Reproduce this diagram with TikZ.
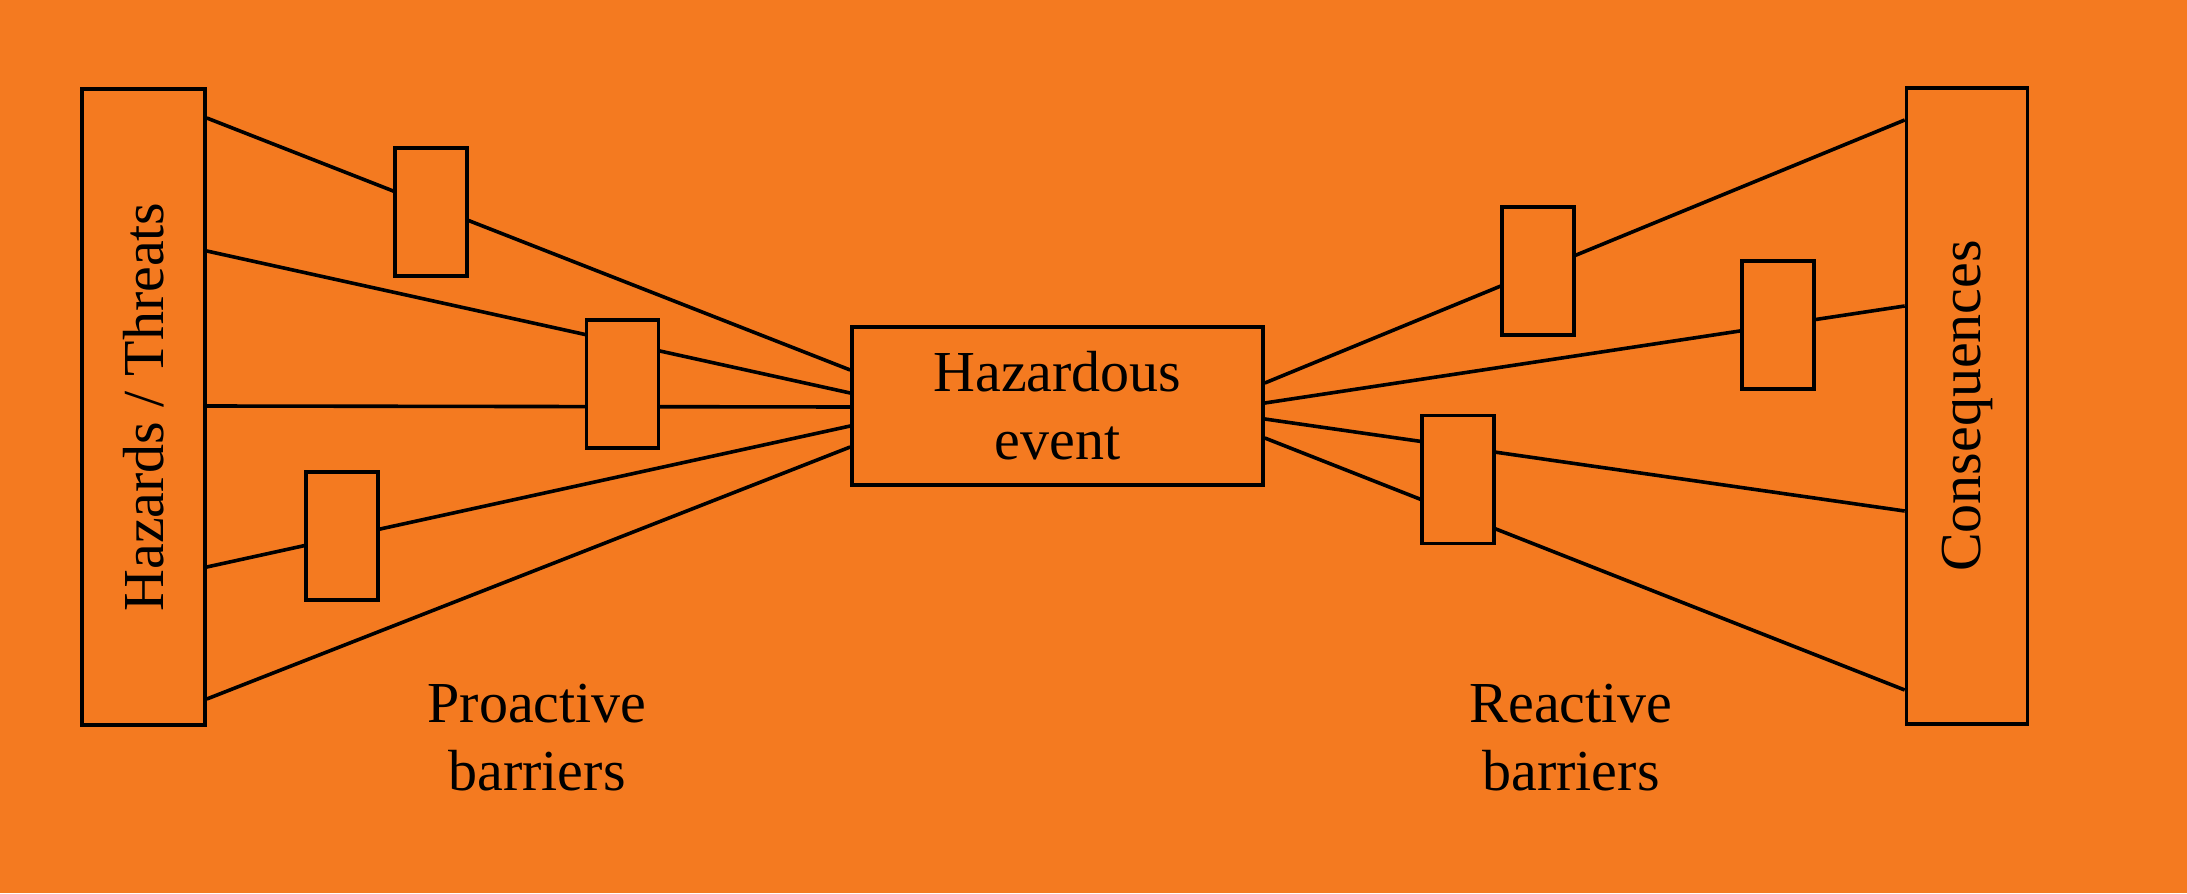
\documentclass[tikz,border=0pt]{standalone}
\usepackage{fontspec}
\setmainfont{Liberation Serif}
\definecolor{bg}{HTML}{F47A20}
\begin{document}
\begin{tikzpicture}[x=0.5pt,y=-0.5pt,
  line width=1.8pt,
  txt/.style={font=\fontsize{29}{34}\selectfont, align=center, inner sep=0pt},
  box/.style={draw, fill=bg, inner sep=0pt, line width=1.8pt},
  sidebox/.style={box, txt, minimum height=318pt},
  eventbox/.style={box, txt, minimum width=205.5pt, minimum height=79pt},
  barrier/.style={box, minimum width=36pt, minimum height=64pt},
  link/.style={draw, line width=1.8pt}]
  % background
  \fill[bg] (0,0) rectangle (2187,893);
  \useasboundingbox (0,0) rectangle (2187,893);

  % main blocks
  \node[sidebox, minimum width=61.5pt] (haz) at (143.5,407) {\rotatebox{90}{Hazards / Threats}};
  \node[eventbox] (ev) at (1057.5,406) {Hazardous\\event};
  \node[sidebox, minimum width=60.5pt] (cons) at (1967,406) {\rotatebox{90}{Consequences}};

  % threat lines into the hazardous event
  \path[link] (haz.east |- 0,118) -- (ev.west |- 0,370);
  \path[link] (haz.east |- 0,251) -- (ev.west |- 0,393);
  \path[link] (haz.east |- 0,406) -- (ev.west |- 0,407);
  \path[link] (haz.east |- 0,567) -- (ev.west |- 0,426);
  \path[link] (haz.east |- 0,699) -- (ev.west |- 0,447);

  % consequence lines out of the hazardous event
  \path[link] (ev.east |- 0,383) -- (cons.west |- 0,120);
  \path[link] (ev.east |- 0,403) -- (cons.west |- 0,306);
  \path[link] (ev.east |- 0,419) -- (cons.west |- 0,511);
  \path[link] (ev.east |- 0,438) -- (cons.west |- 0,690);

  % proactive barriers
  \node[barrier] (p1) at (431,212) {};
  \node[barrier] (p2) at (622.5,384) {};
  \node[barrier] (p3) at (342,536) {};

  % reactive barriers
  \node[barrier] (r1) at (1538,271) {};
  \node[barrier] (r2) at (1778,325) {};
  \node[barrier] (r3) at (1458,479.5) {};

  % captions
  \node[txt] (pro) at (537,738) {Proactive\\barriers};
  \node[txt] (rea) at (1571,738) {Reactive\\barriers};
\end{tikzpicture}
\end{document}
